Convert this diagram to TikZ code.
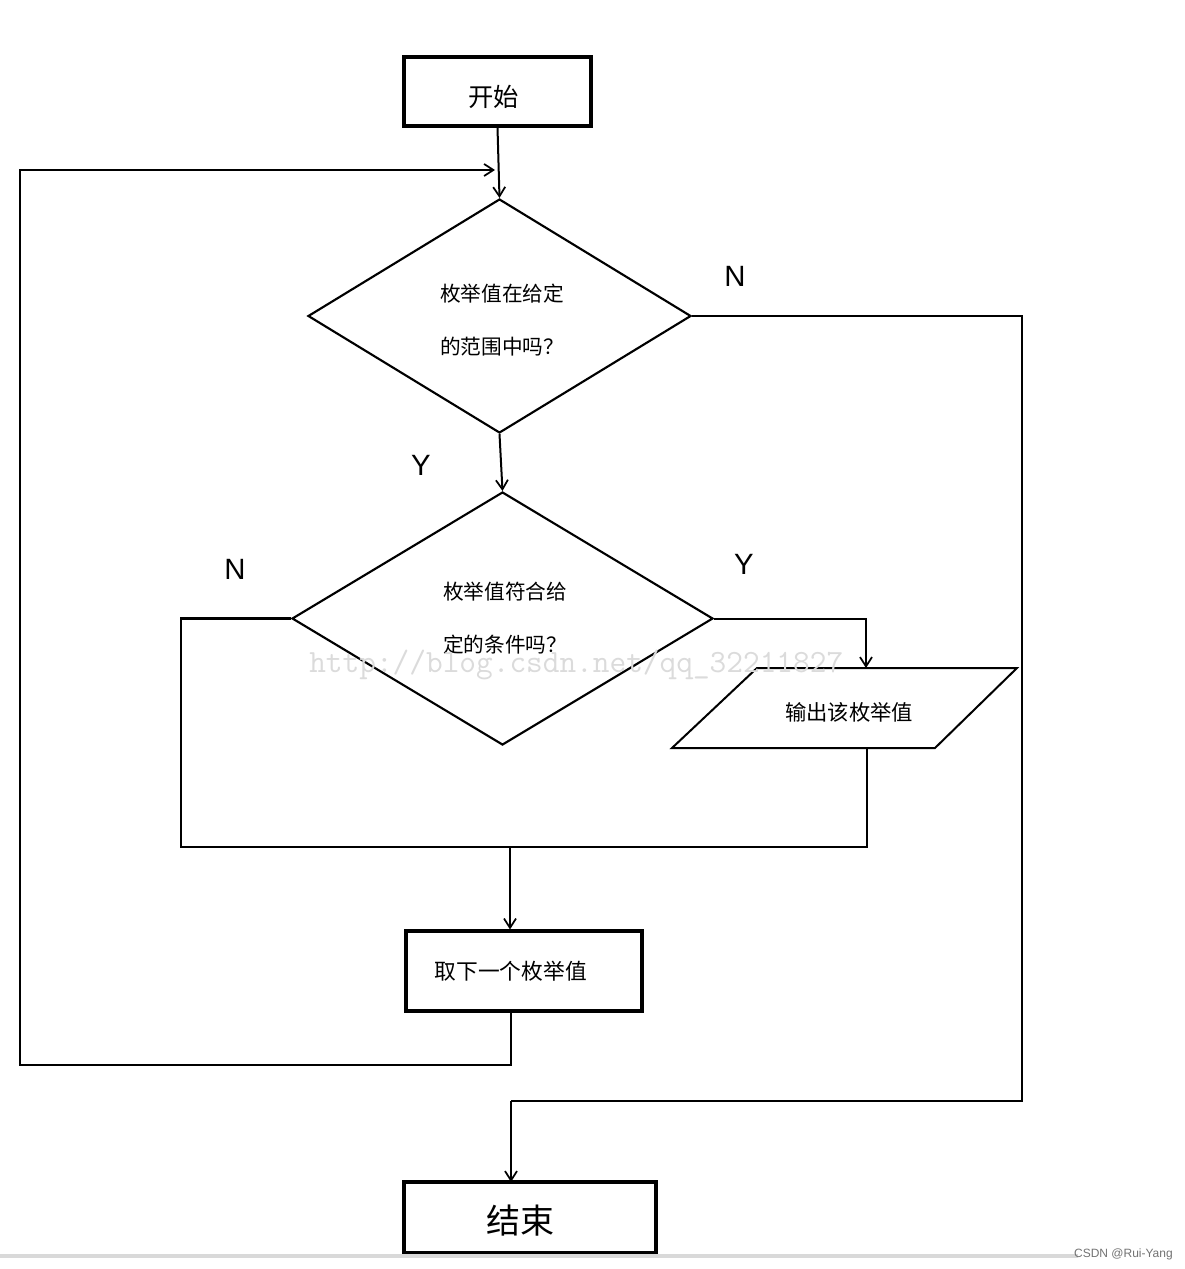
\documentclass[tikz,border=0pt]{standalone}
\usepackage{fontspec}
\newfontfamily\cjk{Noto Sans CJK SC}
\newfontfamily\lat{Liberation Sans}
\usetikzlibrary{shapes.geometric,arrows.meta}
\begin{document}
\begin{tikzpicture}[x=0.75pt,y=-0.75pt,
  line/.style={line width=1.5pt, line join=miter},
  arr/.style={line, -{Straight Barb[length=7pt,width=9pt,line width=1.3pt]}},
  boxnode/.style={draw, line width=2.6pt, inner sep=0pt},
  dia/.style={draw, diamond, line width=1.6pt, inner sep=0pt},
  diatext/.style={font={\cjk\fontsize{15.5}{39.75}\selectfont}, align=center, inner sep=0pt},
  yn/.style={font={\lat\fontsize{22}{26}\selectfont}, inner sep=0pt}]
\useasboundingbox (0,0) rectangle (1184,1269);
\fill[white] (0,0) rectangle (1184,1269);

% nodes
\node[boxnode, minimum width={187*0.75pt}, minimum height={69*0.75pt},
  label={[font={\cjk\fontsize{19}{22}\selectfont}, inner sep=0pt, yshift=-4.3pt, xshift=-3pt]center:开始}]
  (start) at (497.5,91.5) {};
\node[dia, minimum width={383*0.75pt}, minimum height={234*0.75pt},
  label={[diatext, yshift=-3.4pt, xshift=2pt]center:枚举值在给定\\的范围中吗？}]
  (d1) at (499.5,316) {};
\node[dia, minimum width={421*0.75pt}, minimum height={253*0.75pt},
  label={[diatext, xshift=2pt]center:枚举值符合给\\定的条件吗？}]
  (d2) at (502.5,618.5) {};
% output parallelogram
\coordinate (pTL) at (757,668);
\coordinate (pTR) at (1017,668);
\coordinate (pBR) at (935,748);
\coordinate (pBL) at (672,748);
\draw[line, line join=miter] (pTL) -- (pTR) -- (pBR) -- (pBL) -- cycle;
\node[font={\cjk\fontsize{16}{20}\selectfont}, inner sep=0pt] (out) at (849,712) {输出该枚举值};
\node[boxnode, line width=2.3pt, minimum width={236*0.75pt}, minimum height={80*0.75pt},
  font={\cjk\fontsize{16.3}{20}\selectfont}] (next) at (524,971) {\hspace*{-20pt}取下一个枚举值};
\node[boxnode, line width=2.6pt, minimum width={252*0.75pt}, minimum height={71*0.75pt},
  label={[font={\cjk\fontsize{25.5}{30}\selectfont}, inner sep=0pt, xshift=-7pt, yshift=-2pt]center:结束}]
  (end) at (530,1217.5) {};

% labels
\node[yn] (n1) at (735,276) {N};
\node[yn] (y1) at (421,465) {Y};
\node[yn] (n2) at (235,569) {N};
\node[yn] (y2) at (744,564) {Y};

% coordinates
\coordinate (nextout) at (511,1011);
\coordinate (loopin) at (495,170);
\coordinate (loopL) at (20,1065);
\coordinate (rc) at (1022,1101);
\coordinate (endin) at (511,1182);
\coordinate (mL) at (181,847);
\coordinate (mR) at (867,847);
\coordinate (merge) at (510,847);
\coordinate (outin) at (866,668);
\coordinate (outbot) at (867,748);

% connectors
\draw[arr] (start.south) -- (d1.north);
\draw[arr, line width=1.8pt] (nextout) |- (loopL) |- (loopin);
\draw[line] (d1.east) -| (rc) -- (rc -| endin);
\draw[arr] (rc -| endin) -- (endin);
\draw[arr] (d1.south) -- (d2.north);
\draw[line] (d2.east) -| (outin);
\draw[arr] (d2.east -| outin) -- (outin);
\draw[line, line width=1.8pt] (d2.west) -| (mL) -- (mR) -- (outbot);
\draw[arr] (merge) -- (merge |- next.north);

% watermarks
\node[anchor=west, inner sep=0pt, text=black!14, font={\ttfamily\fontsize{24.3}{28}\selectfont}]
  (wm) at (309,665) {http://blog.csdn.net/qq\_32211827};
\draw[black!15, line width=2.5pt] (0,1256) -- (1078,1256);
\node[anchor=east, inner sep=0pt, text=black!55, font={\lat\fontsize{9}{11}\selectfont}]
  (csdn) at (1173,1254) {CSDN @Rui-Yang};
\end{tikzpicture}
\end{document}
